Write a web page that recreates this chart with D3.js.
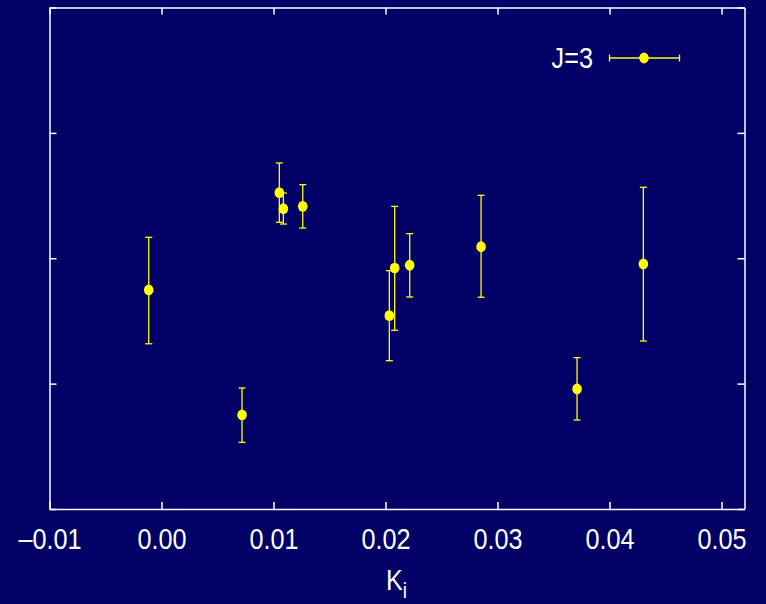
<!DOCTYPE html>
<head>
    <meta charset="utf-8">
    <script src="https://d3js.org/d3.v7.min.js"></script>
    <style>
        body { margin: 0; background: #000066; }
        text { font-family: 'Liberation Sans', Arial, sans-serif; fill: #ffffff; }
    </style>
</head>
<body>
    <div id="my_dataviz"></div>
</body>
<script>

    // data
    var kValues = [-0.00114, 0.00719, 0.01052, 0.01088, 0.01261, 0.02034, 0.02082, 0.02216, 0.02853, 0.03710, 0.04302];
    var jValues = [1.747, 0.750, 2.523, 2.395, 2.414, 1.542, 1.922, 1.944, 2.092, 0.957, 1.954];
    var jLow = [1.318, 0.532, 2.287, 2.273, 2.241, 1.183, 1.425, 1.691, 1.689, 0.710, 1.340];
    var jHigh = [2.167, 0.965, 2.760, 2.520, 2.587, 1.901, 2.414, 2.196, 2.502, 1.207, 2.566];
    var xTicks = [-0.01, 0.00, 0.01, 0.02, 0.03, 0.04, 0.05];
    var xTickLabels = ["\u20130.01", "0.00", "0.01", "0.02", "0.03", "0.04", "0.05"];
    var yTicks = [0, 1, 2, 3, 4];
    var seriesName = "J=3";

    var W = 766, H = 604;
    var margin = { top: 7.5, right: 21.5, bottom: 95, left: 49.5 };

    var svg = d3.select("#my_dataviz")
        .append("svg")
        .attr("width", W)
        .attr("height", H);

    svg.append("rect").attr("width", W).attr("height", H).attr("fill", "#000066");

    var x = d3.scaleLinear()
        .domain([-0.01, 0.05205])
        .range([margin.left, W - margin.right]);
    var y = d3.scaleLinear()
        .domain([0, 4])
        .range([H - margin.bottom, margin.top]);

    function styleAxis(g) {
        g.selectAll("path, line").attr("stroke", "#ffffff").attr("stroke-width", 1.5);
    }

    // bottom axis with labels
    var gx = svg.append("g")
        .attr("transform", "translate(0," + (H - margin.bottom) + ")")
        .call(d3.axisBottom(x).tickValues(xTicks).tickSize(-7).tickSizeOuter(0).tickPadding(19.5)
            .tickFormat(function (d, i) { return xTickLabels[i]; }));
    gx.selectAll("text")
        .attr("font-size", 29)
        .attr("font-family", "'Liberation Sans', Arial, sans-serif")
        .attr("fill", "#ffffff")
        .attr("transform", "scale(0.87,1)");
    styleAxis(gx);

    // top axis, no labels
    var gt = svg.append("g")
        .attr("transform", "translate(0," + margin.top + ")")
        .call(d3.axisTop(x).tickValues(xTicks).tickSize(-7).tickSizeOuter(0).tickFormat(""));
    styleAxis(gt);

    // left & right axes, no labels
    var gl = svg.append("g")
        .attr("transform", "translate(" + margin.left + ",0)")
        .call(d3.axisLeft(y).tickValues(yTicks).tickSize(-7).tickSizeOuter(0).tickFormat(""));
    styleAxis(gl);
    var gr = svg.append("g")
        .attr("transform", "translate(" + (W - margin.right) + ",0)")
        .call(d3.axisRight(y).tickValues(yTicks).tickSize(-7).tickSizeOuter(0).tickFormat(""));
    styleAxis(gr);

    // x axis title K_i
    var xt = svg.append("text")
        .attr("transform", "translate(386,590) scale(0.87,1)")
        .attr("font-size", 29);
    xt.append("tspan").text("K");
    xt.append("tspan").attr("font-size", 22).attr("dy", 8).text("i");

    var data = kValues.map(function (k, i) {
        return { k: k, j: jValues[i], lo: jLow[i], hi: jHigh[i] };
    });

    var yellow = "#ffff00";
    var cap = 3.5;

    // error bars
    var eb = svg.append("g").attr("stroke", yellow).attr("stroke-width", 1.3);
    eb.selectAll("line.v").data(data).enter().append("line")
        .attr("x1", function (d) { return x(d.k); })
        .attr("x2", function (d) { return x(d.k); })
        .attr("y1", function (d) { return y(d.lo); })
        .attr("y2", function (d) { return y(d.hi); });
    eb.selectAll("line.top").data(data).enter().append("line")
        .attr("x1", function (d) { return x(d.k) - cap; })
        .attr("x2", function (d) { return x(d.k) + cap; })
        .attr("y1", function (d) { return y(d.hi); })
        .attr("y2", function (d) { return y(d.hi); });
    eb.selectAll("line.bot").data(data).enter().append("line")
        .attr("x1", function (d) { return x(d.k) - cap; })
        .attr("x2", function (d) { return x(d.k) + cap; })
        .attr("y1", function (d) { return y(d.lo); })
        .attr("y2", function (d) { return y(d.lo); });

    // points
    svg.append("g").selectAll("ellipse").data(data).enter().append("ellipse")
        .attr("cx", function (d) { return x(d.k); })
        .attr("cy", function (d) { return y(d.j); })
        .attr("rx", 4.8)
        .attr("ry", 5.4)
        .attr("fill", yellow);

    // legend
    var lg = svg.append("g");
    lg.append("text")
        .attr("transform", "translate(593,68) scale(0.87,1)")
        .attr("text-anchor", "end")
        .attr("font-size", 29)
        .text(seriesName);
    lg.append("line").attr("x1", 609.5).attr("x2", 679.5).attr("y1", 58).attr("y2", 58)
        .attr("stroke", yellow).attr("stroke-width", 1.3);
    lg.append("line").attr("x1", 609.5).attr("x2", 609.5).attr("y1", 54.5).attr("y2", 61.5)
        .attr("stroke", yellow).attr("stroke-width", 1.3);
    lg.append("line").attr("x1", 679.5).attr("x2", 679.5).attr("y1", 54.5).attr("y2", 61.5)
        .attr("stroke", yellow).attr("stroke-width", 1.3);
    lg.append("ellipse").attr("cx", 644).attr("cy", 58).attr("rx", 4.8).attr("ry", 5.4).attr("fill", yellow);
</script>
